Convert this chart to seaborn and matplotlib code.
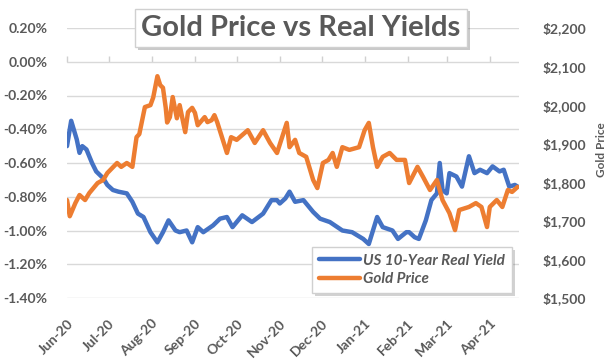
import pandas as pd
import numpy as np
import matplotlib
matplotlib.use("Agg")
import matplotlib.pyplot as plt
import matplotlib.dates as mdates
import matplotlib.patheffects as pe
import matplotlib.transforms as mtransforms
import seaborn as sns

# US 10-year real yield (%)
yield_dates = ["2020-06-01", "2020-06-04", "2020-06-08", "2020-06-10", "2020-06-12", "2020-06-15",
               "2020-06-19", "2020-06-22", "2020-06-27", "2020-06-30", "2020-07-04", "2020-07-08",
               "2020-07-14", "2020-07-18", "2020-07-22", "2020-07-26", "2020-07-31", "2020-08-05",
               "2020-08-09", "2020-08-13", "2020-08-18", "2020-08-21", "2020-08-26", "2020-08-30",
               "2020-09-03", "2020-09-07", "2020-09-14", "2020-09-19", "2020-09-24", "2020-09-28",
               "2020-10-05", "2020-10-12", "2020-10-20", "2020-10-26", "2020-10-30", "2020-11-01",
               "2020-11-05", "2020-11-08", "2020-11-12", "2020-11-18", "2020-11-25", "2020-11-30",
               "2020-12-07", "2020-12-16", "2020-12-23", "2020-12-31", "2021-01-04", "2021-01-10",
               "2021-01-14", "2021-01-21", "2021-01-25", "2021-01-31", "2021-02-02", "2021-02-06",
               "2021-02-09", "2021-02-14", "2021-02-18", "2021-02-22", "2021-02-24", "2021-02-26",
               "2021-03-01", "2021-03-03", "2021-03-08", "2021-03-12", "2021-03-17", "2021-03-21",
               "2021-03-25", "2021-03-30", "2021-04-03", "2021-04-08", "2021-04-11", "2021-04-15",
               "2021-04-19", "2021-04-21"]
yield_vals = [-0.50, -0.35, -0.46, -0.54, -0.50, -0.52,
              -0.60, -0.65, -0.69, -0.73, -0.76, -0.77,
              -0.78, -0.83, -0.90, -0.92, -1.01, -1.07,
              -1.01, -0.94, -1.00, -1.01, -1.00, -1.07,
              -0.98, -1.01, -0.97, -0.93, -0.92, -0.98,
              -0.91, -0.95, -0.90, -0.82, -0.82, -0.84,
              -0.81, -0.77, -0.83, -0.82, -0.89, -0.93,
              -0.95, -1.00, -1.01, -1.05, -1.08, -0.92,
              -0.98, -1.00, -1.05, -1.01, -1.01, -1.04,
              -1.05, -0.94, -0.82, -0.78, -0.60, -0.76,
              -0.78, -0.66, -0.68, -0.74, -0.56, -0.66,
              -0.64, -0.66, -0.62, -0.65, -0.64, -0.74,
              -0.73, -0.74]

# gold price (USD/oz)
gold_dates = ["2020-06-01", "2020-06-03", "2020-06-07", "2020-06-10", "2020-06-14", "2020-06-17",
              "2020-06-23", "2020-06-27", "2020-06-30", "2020-07-07", "2020-07-10", "2020-07-14",
              "2020-07-18", "2020-07-21", "2020-07-23", "2020-07-27", "2020-07-31", "2020-08-02",
              "2020-08-05", "2020-08-07", "2020-08-09", "2020-08-11", "2020-08-12", "2020-08-14",
              "2020-08-16", "2020-08-19", "2020-08-21", "2020-08-25", "2020-08-27", "2020-08-30",
              "2020-09-01", "2020-09-03", "2020-09-08", "2020-09-10", "2020-09-13", "2020-09-15",
              "2020-09-17", "2020-09-24", "2020-09-27", "2020-10-01", "2020-10-09", "2020-10-14",
              "2020-10-20", "2020-10-25", "2020-10-30", "2020-11-06", "2020-11-08", "2020-11-12",
              "2020-11-15", "2020-11-20", "2020-11-25", "2020-11-28", "2020-12-02", "2020-12-06",
              "2020-12-09", "2020-12-12", "2020-12-16", "2020-12-21", "2020-12-28", "2021-01-01",
              "2021-01-04", "2021-01-07", "2021-01-10", "2021-01-14", "2021-01-19", "2021-01-24",
              "2021-01-30", "2021-02-02", "2021-02-08", "2021-02-12", "2021-02-17", "2021-02-22",
              "2021-02-26", "2021-03-03", "2021-03-07", "2021-03-10", "2021-03-17", "2021-03-22",
              "2021-03-26", "2021-03-30", "2021-04-01", "2021-04-06", "2021-04-10", "2021-04-14",
              "2021-04-17", "2021-04-21"]
gold_vals = [1754, 1712, 1746, 1767, 1754, 1772,
             1798, 1806, 1824, 1850, 1840, 1850,
             1840, 1917, 1925, 1995, 2000, 2020,
             2075, 2052, 2045, 1993, 1955, 1969,
             2021, 1966, 2000, 1930, 1982, 1993,
             1980, 1948, 1969, 1956, 1961, 1974,
             1956, 1876, 1917, 1910, 1935, 1902,
             1935, 1902, 1876, 1954, 1891, 1910,
             1876, 1866, 1806, 1785, 1850, 1858,
             1876, 1840, 1891, 1884, 1891, 1935,
             1954, 1891, 1840, 1866, 1876, 1858,
             1858, 1798, 1840, 1814, 1780, 1806,
             1754, 1720, 1676, 1728, 1736, 1746,
             1736, 1684, 1736, 1754, 1736, 1780,
             1775, 1788]

title = "Gold Price vs Real Yields"
yield_label = "US 10-Year Real Yield"
gold_label = "Gold Price"
left_ticks = [0.2, 0.0, -0.2, -0.4, -0.6, -0.8, -1.0, -1.2, -1.4]
right_ticks = [2200, 2100, 2000, 1900, 1800, 1700, 1600, 1500]

df_y = pd.DataFrame({"date": pd.to_datetime(yield_dates), "val": yield_vals})
df_g = pd.DataFrame({"date": pd.to_datetime(gold_dates), "val": gold_vals})

sns.set_theme(style="white")
plt.rcParams["font.family"] = ["Lato", "DejaVu Sans"]
grey = "#595959"
blue = "#4472C4"
orange = "#ED7D31"

fig = plt.figure(figsize=(6.07, 3.59), dpi=100)
ax = fig.add_axes([67/607, 1-298/359, 452/607, 270/359])
ax2 = ax.twinx()

sns.lineplot(data=df_y, x="date", y="val", ax=ax, color=blue, lw=3.2, label=yield_label)
sns.lineplot(data=df_g, x="date", y="val", ax=ax2, color=orange, lw=3.2, label=gold_label)

ax.set_ylim(-1.4, 0.2)
ax.set_yticks(left_ticks)
ax.set_yticklabels([f"{v:.2f}%" for v in left_ticks])
ax2.set_ylim(1500, 2200)
ax2.set_yticks(right_ticks)
ax2.set_yticklabels([f"${v:,.0f}" for v in right_ticks])
ax.set_xlim(pd.Timestamp("2020-06-01"), pd.Timestamp("2021-04-22"))

months = pd.date_range("2020-06-01", "2021-04-01", freq="MS")
ax.set_xticks(months)
ax.xaxis.set_major_formatter(mdates.DateFormatter("%b-%y"))

ax.grid(axis="y", color="#d9d9d9", lw=1)
ax.set_axisbelow(True)
for a in (ax, ax2):
    for s in a.spines.values():
        s.set_visible(False)
    a.set_xlabel("")
ax.set_ylabel("")
ax2.set_ylabel("Gold Price", color=grey, fontsize=8.5, fontweight="bold")
ax2.yaxis.set_label_coords((596-67)/452, 0.55)

ax.tick_params(axis="y", length=0, pad=14, labelsize=10, labelcolor=grey)
ax2.tick_params(axis="y", length=0, pad=17, labelsize=10, labelcolor=grey)
ax.tick_params(axis="x", length=0, pad=17, labelsize=10, labelcolor=grey)
for lab in ax.get_yticklabels() + ax2.get_yticklabels() + ax.get_xticklabels():
    lab.set_fontweight("bold")
shift = mtransforms.ScaledTranslation(4/100, 0, fig.dpi_scale_trans)
for lab in ax.get_xticklabels():
    lab.set_rotation(45)
    lab.set_ha("right")
    lab.set_va("center")
    lab.set_rotation_mode("anchor")
    lab.set_transform(lab.get_transform() + shift)

# category axis crosses at 0% with small tick marks
sec = ax.secondary_xaxis(1.4/1.6)
sec.set_xticks(months)
sec.set_xticklabels([])
sec.tick_params(axis="x", direction="out", length=4, color="#d0d0d0", width=1)
sec.spines["bottom"].set_visible(False)
sec.spines["top"].set_visible(False)

# combined legend
h1, l1 = ax.get_legend_handles_labels()
h2, l2 = ax2.get_legend_handles_labels()
ax.get_legend().remove()
ax2.get_legend().remove()
leg = ax2.legend(h1 + h2, l1 + l2, loc="lower right", bbox_to_anchor=(0.985, 0.018),
                 borderaxespad=0, frameon=True, fancybox=False, edgecolor="#d0d0d0", framealpha=1,
                 handlelength=2.7, handletextpad=0.2, borderpad=0.45, labelspacing=0.3,
                 prop={"size": 11, "style": "italic", "weight": "bold"})
for t in leg.get_texts():
    t.set_color(grey)
leg.get_frame().set_path_effects([pe.SimplePatchShadow(offset=(2, -2), alpha=0.25), pe.Normal()])

# title box
tt = fig.text(301/607, 1-28/359, title, ha="center", va="center", fontsize=21,
              fontweight="bold", color=grey,
              bbox=dict(boxstyle="square,pad=0.22", fc="white", ec="#d0d0d0", lw=1))
tt.get_bbox_patch().set_path_effects([pe.SimplePatchShadow(offset=(2, -2), alpha=0.3), pe.Normal()])

fig.savefig("out.png", dpi=100)
